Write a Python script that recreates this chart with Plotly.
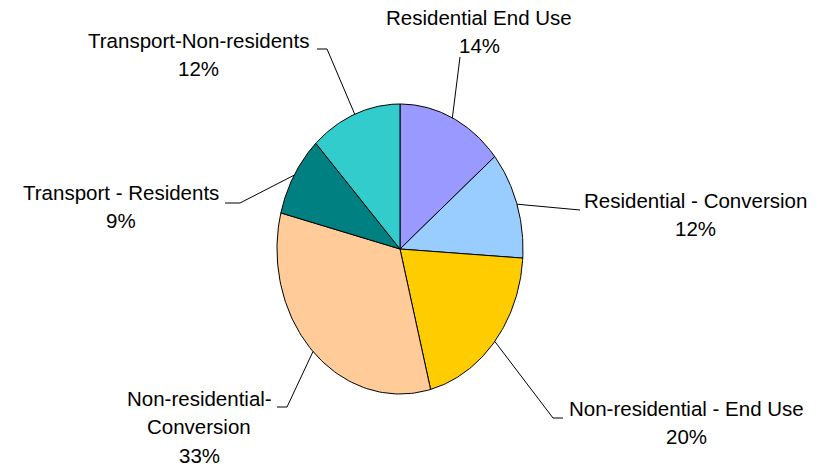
import numpy as np
import plotly.graph_objects as go

# ---- data ----
categories = [
    "Residential End Use",
    "Residential - Conversion",
    "Non-residential - End Use",
    "Non-residential-Conversion",
    "Transport - Residents",
    "Transport-Non-residents",
]
values = [14, 12, 20, 33, 9, 12]
colors = ["#9999FF", "#99CCFF", "#FFCC00", "#FFCC99", "#008080", "#33CCCC"]

# label text lines (as displayed)
label_lines = [
    ["Residential End Use"],
    ["Residential - Conversion"],
    ["Non-residential - End Use"],
    ["Non-residential-", "Conversion"],
    ["Transport - Residents"],
    ["Transport-Non-residents"],
]

# ---- layout geometry (page pixels) ----
W, H = 820, 467
OFF = 0                # page body margin removed via post_script
CX, CY = 400, 249      # pie centre
RX, RY = 123, 145      # stretched radii

def px2x(p):
    return (p - CX) / RX

def px2y(p):
    return (CY - p) / RY

# label placement: (centre x, first-line centre y) in pixels
label_pos = [(479, 17), (695, 200), (686, 408), (199, 398), (121, 192), (198, 40)]
# leader elbows and tails in pixels
leader_pts = [
    [(460, 57)],
    [(560, 208), (580, 210)],
    [(553, 418), (563, 418)],
    [(287, 407), (277, 407)],
    [(240, 203), (225, 203)],
    [(327, 49), (317, 49)],
]

FONT = "Liberation Sans, Arial, sans-serif"
FSIZE = 20.5
LINE_STEP = 28.5

fig = go.Figure()

total = float(sum(values))
start = 0.0
mids = []
for name, v, c in zip(categories, values, colors):
    a0 = start / total * 2 * np.pi
    a1 = (start + v) / total * 2 * np.pi
    th = np.linspace(a0, a1, 80)
    xs = np.concatenate([[0], np.sin(th), [0]])
    ys = np.concatenate([[0], np.cos(th), [0]])
    fig.add_trace(go.Scatter(
        x=xs, y=ys, mode="lines", fill="toself", fillcolor=c,
        line=dict(color="#000000", width=1), name=name,
        hoverinfo="text", text=f"{name}: {v}%", showlegend=False,
    ))
    mids.append((a0 + a1) / 2)
    start += v

# leader lines
for m, pts in zip(mids, leader_pts):
    xs = [np.sin(m)] + [px2x(p[0]) for p in pts]
    ys = [np.cos(m)] + [px2y(p[1]) for p in pts]
    fig.add_trace(go.Scatter(
        x=xs, y=ys, mode="lines", line=dict(color="#000000", width=1),
        hoverinfo="skip", showlegend=False,
    ))

# labels
annotations = []
for lines, v, (lx, ly) in zip(label_lines, values, label_pos):
    all_lines = lines + [f"{v}%"]
    for k, t in enumerate(all_lines):
        annotations.append(dict(
            x=px2x(lx), y=px2y(ly + k * LINE_STEP), xref="x", yref="y",
            text=t, showarrow=False, xanchor="center", yanchor="middle",
            font=dict(family=FONT, size=FSIZE, color="#000000"),
        ))

fig.update_layout(
    width=W, height=H,
    margin=dict(l=0, r=0, t=0, b=0),
    paper_bgcolor="white", plot_bgcolor="white",
    xaxis=dict(range=[px2x(OFF), px2x(OFF + W)], visible=False, fixedrange=True),
    yaxis=dict(range=[px2y(OFF + H), px2y(OFF)], visible=False, fixedrange=True),
    annotations=annotations,
    showlegend=False,
)

fig.write_html(
    "out.html",
    config={"displayModeBar": False},
    post_script="document.body.style.margin='0px';document.body.style.overflow='hidden';",
)
